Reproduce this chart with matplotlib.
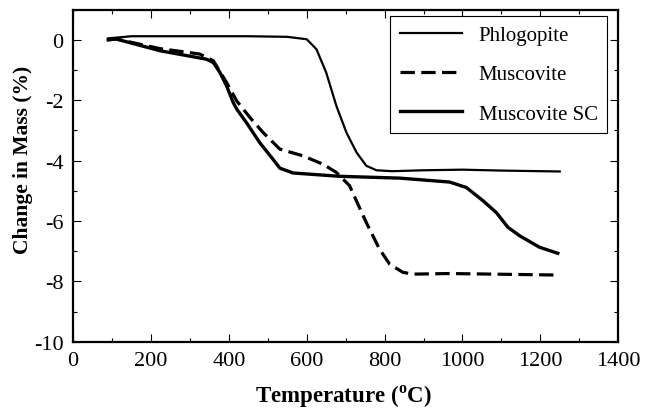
import matplotlib

matplotlib.use("Agg")
import matplotlib.pyplot as plt
from matplotlib.ticker import MultipleLocator

plt.rcParams["font.family"] = ["Liberation Serif", "DejaVu Serif"]
plt.rcParams["mathtext.fontset"] = "custom"
plt.rcParams["mathtext.bf"] = "Liberation Serif:bold"
plt.rcParams["mathtext.rm"] = "Liberation Serif"
plt.rcParams["axes.unicode_minus"] = False

# curvas (temperatura em C, variacao de massa em %)
temp_phlog = [90, 150, 300, 450, 550, 600, 625, 650, 676, 702, 728, 753, 779, 820, 900, 1000, 1100, 1250]
massa_phlog = [0.05, 0.12, 0.12, 0.12, 0.10, 0.02, -0.31, -1.08, -2.18, -3.07, -3.73, -4.17, -4.32,
               -4.35, -4.32, -4.30, -4.33, -4.36]

temp_musc = [90, 110, 223, 325, 360, 394, 420, 454, 488, 531, 590, 642, 676, 710, 753, 787, 813,
             847, 873, 967, 1245]
massa_musc = [0.0, 0.03, -0.29, -0.47, -0.69, -1.41, -2.02, -2.57, -3.07, -3.62, -3.84, -4.12,
              -4.39, -4.83, -6.05, -6.93, -7.43, -7.70, -7.76, -7.74, -7.79]

temp_sc = [90, 110, 223, 342, 360, 377, 394, 411, 420, 445, 479, 513, 531, 565, 685, 839, 967,
           1010, 1053, 1087, 1117, 1147, 1198, 1245]
massa_sc = [0.0, 0.03, -0.36, -0.64, -0.75, -1.08, -1.52, -2.07, -2.29, -2.74, -3.40, -3.95,
            -4.25, -4.41, -4.52, -4.58, -4.71, -4.89, -5.33, -5.72, -6.21, -6.49, -6.87, -7.07]

rotulos = ["Phlogopite", "Muscovite", "Muscovite SC"]

fig = plt.figure(figsize=(6.59, 4.10), dpi=100)
ax = fig.add_axes([0.111, 0.164, 0.827, 0.810])

ax.plot(temp_phlog, massa_phlog, color="black", linewidth=1.6, label=rotulos[0])
ax.plot(temp_musc, massa_musc, color="black", linewidth=2.3, dashes=(4.5, 2.0), label=rotulos[1])
ax.plot(temp_sc, massa_sc, color="black", linewidth=2.4, label=rotulos[2])

ax.set_xlim(0, 1400)
ax.set_ylim(-10, 1)
ax.xaxis.set_major_locator(MultipleLocator(200))
ax.xaxis.set_minor_locator(MultipleLocator(100))
ax.yaxis.set_major_locator(MultipleLocator(2))
ax.yaxis.set_minor_locator(MultipleLocator(1))
ax.tick_params(which="both", direction="in", top=True, right=True, width=0.8, labelsize=16)
ax.tick_params(which="major", length=5.5, pad=7)
ax.tick_params(which="minor", length=2.6)
for s in ax.spines.values():
    s.set_linewidth(1.6)

ax.set_xlabel(r"Temperature ($^\mathbf{o}$C)", fontsize=16.5, fontweight="bold")
ax.set_ylabel("Change in Mass (%)", fontsize=15.5, fontweight="bold")
ax.yaxis.set_label_coords(-0.074, 0.55)
ax.xaxis.set_label_coords(0.495, -0.125)

leg = ax.legend(loc="upper right", bbox_to_anchor=(0.98, 0.981), fontsize=15,
                frameon=True, fancybox=False, edgecolor="black", framealpha=1,
                handlelength=3.0, handletextpad=0.8, labelspacing=0.95, borderpad=0.45,
                borderaxespad=0)
leg.get_frame().set_linewidth(0.8)

fig.savefig("out.png", dpi=100)
